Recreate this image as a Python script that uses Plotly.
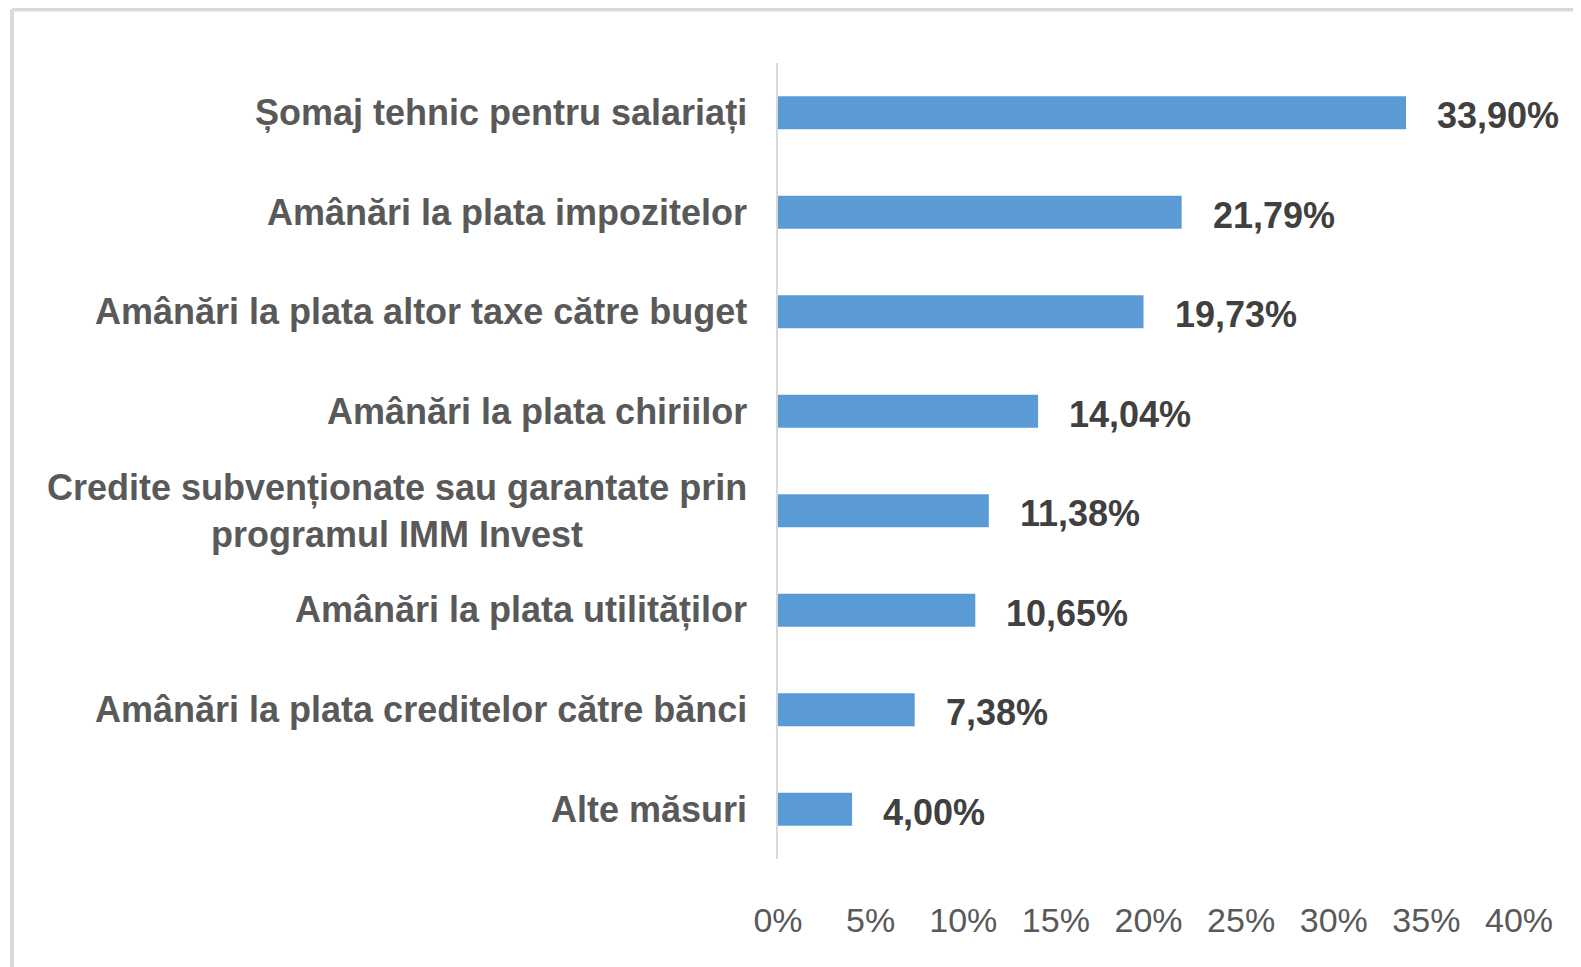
import plotly.graph_objects as go

categories = [
    "Șomaj tehnic pentru salariați",
    "Amânări la plata impozitelor",
    "Amânări la plata altor taxe către buget",
    "Amânări la plata chiriilor",
    "Credite subvenționate sau garantate prin<br>programul IMM Invest",
    "Amânări la plata utilităților",
    "Amânări la plata creditelor către bănci",
    "Alte măsuri",
]
values = [33.90, 21.79, 19.73, 14.04, 11.38, 10.65, 7.38, 4.00]
value_labels = ["33,90%", "21,79%", "19,73%", "14,04%", "11,38%", "10,65%", "7,38%", "4,00%"]
tick_vals = [0, 5, 10, 15, 20, 25, 30, 35, 40]
tick_text = ["0%", "5%", "10%", "15%", "20%", "25%", "30%", "35%", "40%"]

# page body has an 8px margin, so the figure is sized to fit the window
W, H = 1573, 959
L, R, T, B = 770, 62, 55, 108
pw, ph = W - L - R, H - T - B

FONT = "Liberation Sans, Arial, sans-serif"

fig = go.Figure()
fig.add_trace(go.Bar(
    y=categories, x=values, orientation="h",
    marker=dict(color="#5B9BD5", line=dict(width=0)),
    width=0.33, hoverinfo="skip",
))

annotations = []
for c, v, t in zip(categories, values, value_labels):
    annotations.append(dict(
        x=v, y=c, xref="x", yref="y", text=t, showarrow=False,
        xanchor="left", yanchor="middle", xshift=29, yshift=-3,
        font=dict(family=FONT, size=36, color="#404040", weight="bold"),
    ))
    annotations.append(dict(
        x=0, y=c, xref="paper", yref="y", text=c, showarrow=False,
        xanchor="right", yanchor="middle", xshift=-29, align="center",
        font=dict(family=FONT, size=36, color="#595959", weight="bold"),
    ))

# outer frame (top and left edges)
x_left = (4 - L) / pw
x_right = (W + 10 - L) / pw
y_top = (H - B - 1.5) / ph
y_bot = (H - B - H - 10) / ph
shapes = [
    dict(type="line", xref="paper", yref="paper", x0=x_left, x1=x_right, y0=y_top, y1=y_top,
         line=dict(color="#DADADA", width=4)),
    dict(type="line", xref="paper", yref="paper", x0=x_left, x1=x_left, y0=y_bot, y1=y_top,
         line=dict(color="#DADADA", width=4)),
]

fig.update_layout(
    width=W, height=H,
    margin=dict(l=L, r=R, t=T, b=B, pad=0),
    paper_bgcolor="white", plot_bgcolor="white",
    showlegend=False,
    bargap=0.67,
    annotations=annotations,
    shapes=shapes,
    xaxis=dict(
        range=[0, 40], tickvals=tick_vals, ticktext=tick_text,
        showgrid=False, zeroline=False, showline=False, ticks="",
        tickfont=dict(family=FONT, size=34, color="#595959"),
        ticklabelstandoff=38, fixedrange=True,
    ),
    yaxis=dict(
        categoryorder="array", categoryarray=categories[::-1],
        showticklabels=False, showgrid=False, zeroline=False,
        showline=True, linecolor="#D9D9D9", linewidth=2, ticks="",
        fixedrange=True,
    ),
)

fig.write_html("out.html", config={"displayModeBar": False})
